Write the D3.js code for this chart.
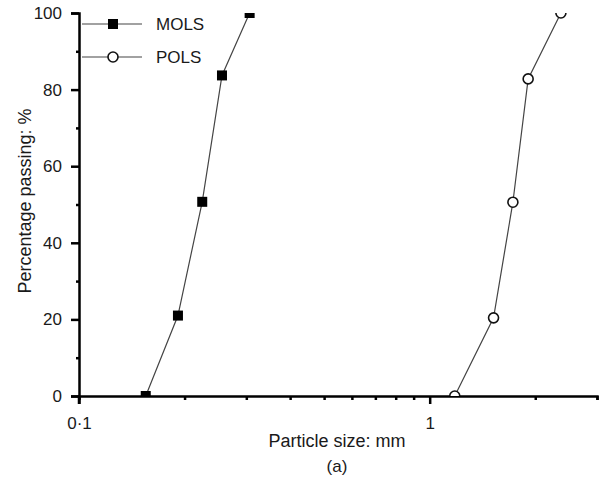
<!DOCTYPE html>
<html>
<head>
<meta charset="utf-8">
<script src="https://cdn.jsdelivr.net/npm/d3@7"></script>
<style>
  body { margin: 0; background: #fff; }
  text { font-family: "Liberation Sans", Arial, sans-serif; fill: #1a1a1a; }
</style>
</head>
<body>
<div id="chart"></div>
<script>
// dữ liệu
var series = ["MOLS", "POLS"];
var molsSize = [0.155, 0.1915, 0.2246, 0.2557, 0.3066];
var molsPass = [0, 21, 50.7, 83.7, 100];
var polsSize = [1.179, 1.521, 1.727, 1.909, 2.367];
var polsPass = [0, 20.4, 50.6, 82.8, 100];
var yTicks = [0, 20, 40, 60, 80, 100];
var yMinor = [10, 30, 50, 70, 90];
var xTicks = [0.1, 0.2, 0.3, 0.4, 0.5, 0.6, 0.7, 0.8, 0.9, 1, 2, 3];
var xTickLabels = {"0.1": "0·1", "1": "1"};

var width = 612, height = 486;
var margin = {top: 13, right: 15, bottom: 90, left: 79};
var innerW = width - margin.left - margin.right;
var innerH = height - margin.top - margin.bottom;

var svg = d3.select("#chart").append("svg")
  .attr("width", width)
  .attr("height", height);

var g = svg.append("g")
  .attr("transform", "translate(" + margin.left + "," + margin.top + ")");

var x = d3.scaleLog().domain([0.1, 3]).range([0, innerW]);
var y = d3.scaleLinear().domain([0, 100]).range([innerH, 0]);

svg.append("defs").append("clipPath").attr("id", "clip")
  .append("rect").attr("x", -2).attr("y", 0).attr("width", innerW + 4).attr("height", innerH);

// trục x (log), vạch hướng xuống
var gx = g.append("g")
  .attr("transform", "translate(0," + innerH + ")")
  .call(d3.axisBottom(x)
    .tickValues(xTicks)
    .tickSizeOuter(0)
    .tickSize(4)
    .tickPadding(17)
    .tickFormat(function(d) { return xTickLabels[String(d)] || ""; }));
gx.selectAll(".tick line")
  .attr("y2", function(d) { return (d === 0.1 || d === 1) ? 8 : 4; });

// trục y
var gy = g.append("g")
  .call(d3.axisLeft(y)
    .tickValues(yTicks)
    .tickSizeOuter(0)
    .tickSize(8)
    .tickPadding(9));
g.append("g")
  .call(d3.axisLeft(y).tickValues(yMinor).tickSize(3).tickSizeOuter(0).tickFormat(""))
  .select(".domain").remove();

g.selectAll(".domain").attr("stroke", "#000").attr("stroke-width", 2.5);
g.selectAll(".tick line").attr("stroke", "#000").attr("stroke-width", 2.5);
g.selectAll(".tick text").attr("font-size", "17px").attr("fill", "#1a1a1a")
  .style("font-family", "'Liberation Sans', Arial, sans-serif");

// trục y kéo xuống dưới trục x một chút
g.append("rect").attr("x", -1.25).attr("y", innerH).attr("width", 2.5).attr("height", 8)
  .style("fill", "#000");

// đường và điểm
var line = d3.line().x(function(d) { return x(d[0]); }).y(function(d) { return y(d[1]); });
var plot = g.append("g").attr("clip-path", "url(#clip)");
var mols = d3.zip(molsSize, molsPass);
var pols = d3.zip(polsSize, polsPass);

[mols, pols].forEach(function(s) {
  plot.append("path").datum(s).attr("d", line)
    .attr("fill", "none").attr("stroke", "#444").attr("stroke-width", 1.2);
});

plot.selectAll(".sq").data(mols).enter().append("rect")
  .attr("x", function(d) { return x(d[0]) - 5; })
  .attr("y", function(d) { return y(d[1]) - 5; })
  .attr("width", 10).attr("height", 10)
  .attr("fill", "#000");

plot.selectAll(".ci").data(pols).enter().append("circle")
  .attr("cx", function(d) { return x(d[0]); })
  .attr("cy", function(d) { return y(d[1]); })
  .attr("r", 5)
  .attr("fill", "#fff").attr("stroke", "#111").attr("stroke-width", 1.6);

// chú thích
var legend = g.append("g");
[0, 1].forEach(function(i) {
  var ly = 11 + i * 33;
  legend.append("line").attr("x1", 3).attr("x2", 63).attr("y1", ly).attr("y2", ly)
    .attr("stroke", "#444").attr("stroke-width", 1.2);
  if (i === 0) {
    legend.append("rect").attr("x", 29).attr("y", ly - 5).attr("width", 10).attr("height", 10).attr("fill", "#000");
  } else {
    legend.append("circle").attr("cx", 34).attr("cy", ly).attr("r", 5)
      .attr("fill", "#fff").attr("stroke", "#111").attr("stroke-width", 1.6);
  }
  legend.append("text").attr("x", 77).attr("y", ly).attr("dy", "0.35em")
    .attr("font-size", "17px").text(series[i]);
});

// tên trục
svg.append("text")
  .attr("x", 337)
  .attr("y", 447)
  .attr("text-anchor", "middle")
  .attr("font-size", "18px")
  .text("Particle size: mm");
svg.append("text")
  .attr("x", 337)
  .attr("y", 472)
  .attr("text-anchor", "middle")
  .attr("font-size", "17px")
  .text("(a)");
svg.append("text")
  .attr("transform", "rotate(-90)")
  .attr("x", -201)
  .attr("y", 31)
  .attr("text-anchor", "middle")
  .attr("font-size", "18px")
  .text("Percentage passing: %");
</script>
</body>
</html>
